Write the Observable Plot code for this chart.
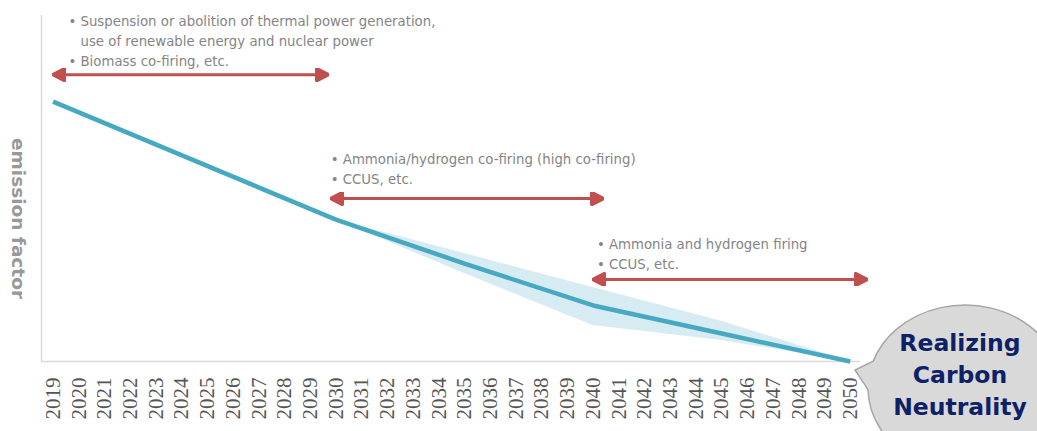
<!DOCTYPE html>
<html><head><meta charset="utf-8">
<script src="https://cdn.jsdelivr.net/npm/d3@7"></script>
<script src="https://cdn.jsdelivr.net/npm/@observablehq/plot@0.6"></script>
<style>
body{margin:0;background:#fff;}
#wrap{position:relative;width:1037px;height:431px;overflow:hidden;}
#bubble{position:absolute;left:0;top:0;}
</style></head><body><div id="wrap"></div>
<script>
// ---- data ----
const years = [2019,2020,2021,2022,2023,2024,2025,2026,2027,2028,2029,2030,2031,2032,2033,2034,2035,2036,2037,2038,2039,2040,2041,2042,2043,2044,2045,2046,2047,2048,2049,2050];
const lineYears = [2019, 2030, 2035, 2040, 2045, 2050];
const lineValues = [75.1, 41.0, 28.3, 16.2, 8.1, 0];
const bandYears = [2030, 2035, 2040, 2045, 2050];
const bandUpper = [41.0, 31.2, 21.4, 11.6, 0];
const bandLower = [41.0, 25.4, 10.4, 6.1, 0];
const arrowStart = [2019.0, 2029.8, 2040.0];
const arrowEnd = [2029.7, 2040.4, 2050.65];
const arrowLevel = [82.9, 47.1, 23.7];
const noteX = [2019.6, 2029.8, 2040.15];
const noteY = [101.2, 61.3, 36.8];
const noteBody = [
  "Suspension or abolition of thermal power generation,\nuse of renewable energy and nuclear power\nBiomass co-firing, etc.",
  "Ammonia/hydrogen co-firing (high co-firing)\nCCUS, etc.",
  "Ammonia and hydrogen firing\nCCUS, etc."
];
const noteBullets = ["•\n\n•", "•\n•", "•\n•"];
const yLabel = "emission factor";
const bubbleLines = ["Realizing", "Carbon", "Neutrality"];

// ---- derived tables ----
const line = lineYears.map((x, i) => ({x, y: lineValues[i]}));
const band = bandYears.map((x, i) => ({x, y1: bandLower[i], y2: bandUpper[i]}));
const arrows = arrowStart.map((x1, i) => ({x1, x2: arrowEnd[i], y: arrowLevel[i]}));
const notes = noteX.map((x, i) => ({x, y: noteY[i], body: noteBody[i], bullet: noteBullets[i]}));

const RED = "#c0504d";
function head(color, context) {
  const ns = "http://www.w3.org/2000/svg";
  const m = context.document.createElementNS(ns, "marker");
  m.setAttribute("viewBox", "-13 -7 14 14");
  m.setAttribute("markerWidth", 14);
  m.setAttribute("markerHeight", 14);
  m.setAttribute("markerUnits", "userSpaceOnUse");
  m.setAttribute("orient", "auto-start-reverse");
  const p = context.document.createElementNS(ns, "path");
  p.setAttribute("d", "M-12,-6.5L0.5,0L-12,6.5Z");
  p.setAttribute("fill", color);
  m.appendChild(p);
  return m;
}

const font = "'DejaVu Sans', Verdana, sans-serif";
const chart = Plot.plot({
  width: 1037,
  height: 431,
  marginLeft: 41,
  marginRight: 177,
  marginTop: 15,
  marginBottom: 70,
  style: {background: "#fff", fontFamily: font},
  x: {type: "linear", domain: [2018.55, 2050.4]},
  y: {domain: [0, 100], axis: null},
  marks: [
    Plot.areaY(band, {x: "x", y1: "y1", y2: "y2", fill: "#d5eaf2", fillOpacity: 0.95}),
    Plot.ruleY([0], {stroke: "#d9d9d9", strokeWidth: 1.5}),
    Plot.ruleX([2018.55], {stroke: "#d9d9d9", strokeWidth: 1.5}),
    Plot.line(line, {x: "x", y: "y", stroke: "#46a9c1", strokeWidth: 4.5, strokeLinecap: "butt"}),
    Plot.link(arrows, {x1: "x1", x2: "x2", y1: "y", y2: "y", stroke: RED, strokeWidth: 3, markerStart: head, markerEnd: head}),
    Plot.text(notes, {x: "x", y: "y", text: "bullet", textAnchor: "start", lineAnchor: "top", lineHeight: 1.52, fontSize: 13.3, fill: "#858585", fontFamily: font}),
    Plot.text(notes, {x: "x", y: "y", text: "body", textAnchor: "start", lineAnchor: "top", lineHeight: 1.52, fontSize: 13.3, fill: "#858585", dx: 12, fontFamily: font}),
    Plot.text([yLabel], {frameAnchor: "left", textAnchor: "middle", rotate: 90, dx: -24, dy: 30, fontSize: 18.5, fontWeight: "bold", fill: "#999", fontFamily: font}),
    Plot.axisX({ticks: years, tickFormat: d => String(d), tickRotate: -90, tickSize: 0, tickPadding: 16, fontSize: 21, fontFamily: "'Liberation Serif', 'DejaVu Serif', serif", fill: "#555", label: null})
  ]
});
const wrap = document.getElementById("wrap");
wrap.appendChild(chart);

// speech bubble annotation
const svg = d3.select(wrap).append("svg").attr("id", "bubble").attr("width", 1037).attr("height", 431);
const cx = 965, cy = 388, rx = 97, ry = 83;
svg.append("path")
  .attr("d", `M${cx + rx*Math.cos(Math.PI+0.33)},${cy + ry*Math.sin(Math.PI+0.33)} A${rx},${ry} 0 1 1 ${cx + rx*Math.cos(Math.PI-0.02)},${cy + ry*Math.sin(Math.PI-0.02)} L855,370 Z`)
  .attr("fill", "#d9d9d9").attr("stroke", "#a6a6a6").attr("stroke-width", 1.5);
svg.append("text").attr("x", 960).attr("y", 351)
  .attr("text-anchor", "middle").attr("font-family", font).attr("font-weight", "bold")
  .attr("font-size", 23.5).attr("fill", "#0d2167")
  .selectAll("tspan").data(bubbleLines).join("tspan")
  .attr("x", 960).attr("dy", (d, i) => i ? 32 : 0).text(d => d);
</script></body></html>
